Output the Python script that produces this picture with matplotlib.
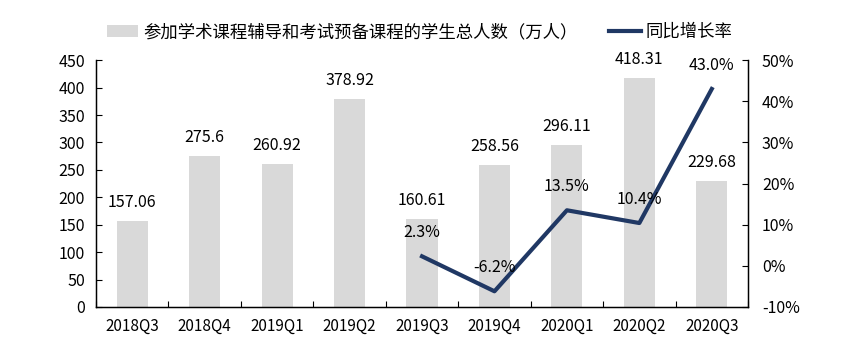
import matplotlib
matplotlib.use("Agg")
import matplotlib.pyplot as plt
import numpy as np

plt.rcParams['font.family'] = ['Noto Sans CJK SC', 'DejaVu Sans']

categories = ['2018Q3', '2018Q4', '2019Q1', '2019Q2', '2019Q3', '2019Q4', '2020Q1', '2020Q2', '2020Q3']
students = [157.06, 275.6, 260.92, 378.92, 160.61, 258.56, 296.11, 418.31, 229.68]
student_labels = ['157.06', '275.6', '260.92', '378.92', '160.61', '258.56', '296.11', '418.31', '229.68']
growth_cats = ['2019Q3', '2019Q4', '2020Q1', '2020Q2', '2020Q3']
growth = [2.3, -6.2, 13.5, 10.4, 43.0]
bar_label = '参加学术课程辅导和考试预备课程的学生总人数（万人）'
line_label = '同比增长率'

bar_color = '#d9d9d9'
line_color = '#203864'

fig = plt.figure(figsize=(8.5, 3.54), dpi=100)
ax = fig.add_axes([0.113, 0.133, 0.767, 0.697])
x = np.arange(len(categories))
ax.bar(x, students, width=0.43, color=bar_color, label=bar_label, zorder=1)
ax.set_xlim(-0.5, len(categories) - 0.5)
ax.set_ylim(0, 450)
ax.set_yticks(np.arange(0, 451, 50))
ax.set_xticks(x)
ax.set_xticklabels(categories)
ax.set_xticks(np.arange(-0.5, len(categories), 1), minor=True)
ax.tick_params(axis='x', which='major', length=0, pad=8, labelsize=11)
ax.tick_params(axis='x', which='minor', direction='in', length=4, width=0.8)
ax.tick_params(axis='y', direction='in', length=4, width=0.8, labelsize=11.5, pad=8)
ax.spines['top'].set_visible(False)
for s in ['left', 'bottom', 'right']:
    ax.spines[s].set_linewidth(1.0)
for xi, v, lab in zip(x, students, student_labels):
    ax.annotate(lab, (xi, v), xytext=(0, 7), textcoords='offset points',
                ha='center', va='bottom', fontsize=11.5)

ax2 = ax.twinx()
gx = [categories.index(c) for c in growth_cats]
ax2.plot(gx, growth, color=line_color, lw=3.0, label=line_label, zorder=3)
ax2.set_ylim(-10, 50)
ax2.set_yticks(np.arange(-10, 51, 10))
ax2.set_yticklabels([f'{t}%' for t in range(-10, 51, 10)])
ax2.tick_params(axis='y', direction='in', length=4, width=0.8, labelsize=11.5, pad=10)
ax2.spines['top'].set_visible(False)
for xi, v in zip(gx, growth):
    ax2.annotate(f'{v:.1f}%', (xi, v), xytext=(0, 11), textcoords='offset points',
                 ha='center', va='bottom', fontsize=11.5, zorder=4)

h1, l1 = ax.get_legend_handles_labels()
h2, l2 = ax2.get_legend_handles_labels()
fig.legend(h1 + h2, l1 + l2, loc='center', bbox_to_anchor=(0.494, 0.91), ncol=2, frameon=False,
           fontsize=12.5, handlelength=1.8, handletextpad=0.3, columnspacing=1.8)

fig.savefig('out.png', dpi=100)
